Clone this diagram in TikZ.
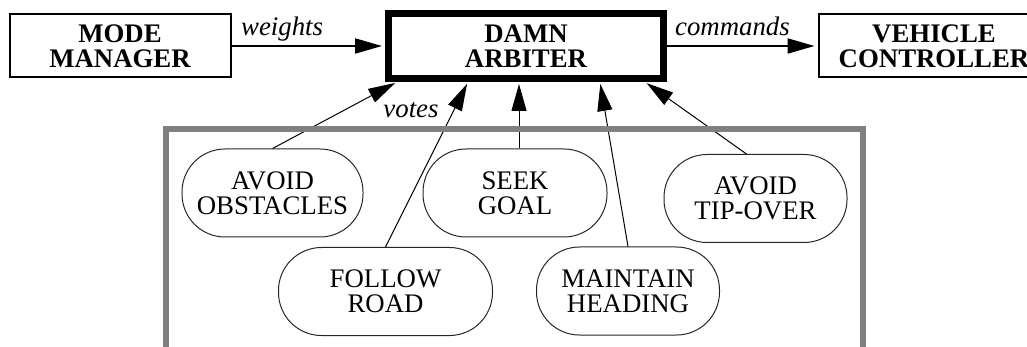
\documentclass[tikz,border=0pt]{standalone}
\usepackage{fontspec}
\setmainfont{Liberation Serif}
\usetikzlibrary{arrows.meta}

\begin{document}
\begin{tikzpicture}[x=0.5pt, y=-0.5pt,
  every node/.style={font=\fontsize{13.4}{12.4}\selectfont, align=center},
  module/.style={draw, line width=1pt, font=\fontsize{13.4}{12.4}\selectfont\bfseries,
    minimum width=110.5pt, minimum height=31.5pt, inner sep=0pt},
  behavior/.style={draw=black!85, line width=0.5pt, rounded corners=21.5pt,
    minimum height=44pt, inner sep=0pt},
  flow/.style={-{Triangle[length=13.5pt, width=7.5pt]}, line width=1pt, shorten >=1.5pt},
  vote/.style={-{Triangle[length=13.5pt, width=7.5pt]}, line width=0.5pt, shorten >=1pt},
  msg/.style={font=\fontsize{13.4}{12.4}\selectfont\itshape, text depth=3pt, inner sep=1.5pt}]

\useasboundingbox (0,0) rectangle (1027,347);

% Top row
\node[module] (mm) at (120,46) {MODE\\MANAGER};
\node[module, line width=3.5pt, minimum width=137.5pt, minimum height=32.5pt] (arb) at (526,46) {DAMN\\ARBITER};
\node[module, minimum width=115.5pt] (vc) at (934,46) {VEHICLE\\CONTROLLER};

\draw[flow] (mm) -- (arb) node[msg, above, pos=0.33] {weights};
\draw[flow] (arb) -- (vc) node[msg, above, pos=0.435] {commands};

% Behaviors
\node[behavior, minimum width=90.5pt] (oa) at (272.5,193) {AVOID\\OBSTACLES};
\node[behavior, minimum width=92pt] (sg) at (515,193) {SEEK\\GOAL};
\node[behavior, minimum width=91.5pt] (to) at (755.5,198.5) {AVOID\\TIP-OVER};
\node[behavior, minimum width=107pt] (fr) at (385.5,291.5) {FOLLOW\\ROAD};
\node[behavior, minimum width=91.5pt] (mh) at (628,291) {MAINTAIN\\HEADING};

% Votes
\coordinate (v1) at ([xshift=6pt]arb.south west);
\coordinate (v2) at ([xshift=41.5pt]arb.south west);
\coordinate (v3) at ([xshift=67pt]arb.south west);
\coordinate (v4) at ([xshift=107.5pt]arb.south west);
\coordinate (v5) at ([xshift=130pt]arb.south west);

\draw[vote] (oa.north) -- (v1);
\draw[vote] (fr.north) -- (v2);
\draw[vote] (sg.north -| v3) -- (v3);
\draw[vote] (mh.north) -- (v4);
\draw[vote] ([xshift=-4.5pt]to.north) -- (v5);
\node[msg, anchor=base, text depth=0pt] (votes) at (411,118) {votes};

% Behavior frame
\draw[gray, line width=3pt] (166,129.5) rectangle (863,370);

\end{tikzpicture}
\end{document}
